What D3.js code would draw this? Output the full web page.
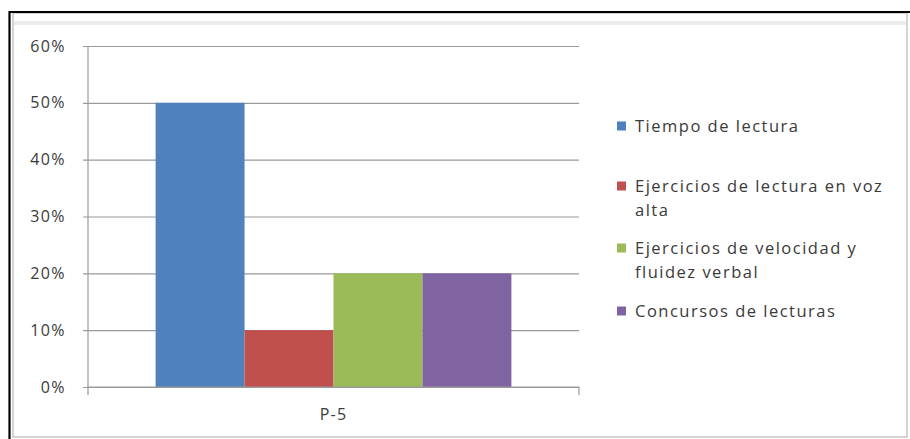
<!DOCTYPE html>
<html>
<head>
<meta charset="utf-8">
<script src="https://cdn.jsdelivr.net/npm/d3@7"></script>
<style>
  html, body { margin: 0; padding: 0; background: #fff; }
  svg { display: block; }
  text { font-family: "Open Sans", "DejaVu Sans", sans-serif; fill: #3a3a3a; }
</style>
</head>
<body>
<svg id="chart" width="910" height="439"></svg>
<script>
// Chart data
const categories = ["P-5"];
const seriesNames = [
  "Tiempo de lectura",
  "Ejercicios de lectura en voz alta",
  "Ejercicios de velocidad y fluidez verbal",
  "Concursos de lecturas"
];
const seriesValues = [0.50, 0.10, 0.20, 0.20];
const seriesColors = ["#4F81BD", "#C0504D", "#9BBB59", "#8064A2"];
const yTicks = [0, 0.1, 0.2, 0.3, 0.4, 0.5, 0.6];
// Legend lines (wrapped as in the legend box)
const legendLines = [
  ["Tiempo de lectura"],
  ["Ejercicios de lectura en voz", "alta"],
  ["Ejercicios de velocidad y", "fluidez verbal"],
  ["Concursos de lecturas"]
];

const svg = d3.select("#chart");

// Frame
svg.append("rect").attr("x", 13).attr("y", 13).attr("width", 894).attr("height", 424)
  .attr("fill", "#fff").attr("stroke", "#b8b8b8").attr("stroke-width", 1.2);
svg.append("rect").attr("x", 14).attr("y", 21).attr("width", 892).attr("height", 4)
  .attr("fill", "#ececec");
svg.append("path").attr("d", "M9.5,440 V12 H910")
  .attr("fill", "none").attr("stroke", "#000").attr("stroke-width", 2.2);

const plot = { left: 88, right: 579, top: 46, bottom: 387 };

const y = d3.scaleLinear().domain([0, 0.6]).range([plot.bottom, plot.top]);
const x0 = d3.scaleBand().domain(categories).range([plot.left, plot.right]);
const x1 = d3.scaleBand().domain(seriesNames).range([0, x0.bandwidth()])
  .paddingInner(0).paddingOuter(0.76);

// Gridlines and y axis
const yAxis = d3.axisLeft(y).tickValues(yTicks).tickFormat(d3.format(".0%"))
  .tickSize(-(plot.right - plot.left + 5)).tickPadding(17);
const gy = svg.append("g").attr("transform", `translate(${plot.left - 5},0)`).call(yAxis);
gy.select(".domain").remove();
gy.selectAll(".tick line").attr("stroke", "#9a9a9a").attr("stroke-width", 1.2);
gy.selectAll(".tick text").attr("font-size", 16).attr("letter-spacing", 1.4).style("fill", "#3a3a3a");

// Vertical axis line
svg.append("line").attr("x1", plot.left).attr("x2", plot.left)
  .attr("y1", plot.top).attr("y2", plot.bottom)
  .attr("stroke", "#9a9a9a").attr("stroke-width", 1.2);

// Bars
const groups = svg.append("g").selectAll("g").data(categories).join("g")
  .attr("transform", d => `translate(${x0(d)},0)`);
groups.selectAll("rect")
  .data(() => seriesNames.map((n, i) => ({ name: n, value: seriesValues[i], color: seriesColors[i] })))
  .join("rect")
  .attr("x", d => x1(d.name))
  .attr("width", x1.bandwidth())
  .attr("y", d => y(d.value))
  .attr("height", d => y(0) - y(d.value))
  .attr("fill", d => d.color);

// X axis
const xAxis = d3.axisBottom(x0).tickSize(0).tickPadding(22);
const gx = svg.append("g").attr("transform", `translate(0,${plot.bottom})`).call(xAxis);
gx.select(".domain").attr("stroke", "#9a9a9a").attr("stroke-width", 1.2)
  .attr("d", `M${plot.left},8V0H${plot.right}V8`);
gx.selectAll(".tick text").attr("font-size", 16).attr("letter-spacing", 1.2).style("fill", "#3a3a3a");

// Legend
const legendRowY = [126, 186, 248, 311];
const lineGap = 24;
const legend = svg.append("g");
legendLines.forEach((lines, i) => {
  const g = legend.append("g").attr("transform", `translate(617,${legendRowY[i]})`);
  g.append("rect").attr("x", 0).attr("y", -4.5).attr("width", 9).attr("height", 9)
    .attr("fill", seriesColors[i]);
  const t = g.append("text").attr("x", 18).attr("y", 6)
    .attr("font-size", 16.5).attr("letter-spacing", 1.5);
  lines.forEach((ln, j) => {
    t.append("tspan").attr("x", 18).attr("dy", j === 0 ? 0 : lineGap).text(ln);
  });
});
</script>
</body>
</html>
